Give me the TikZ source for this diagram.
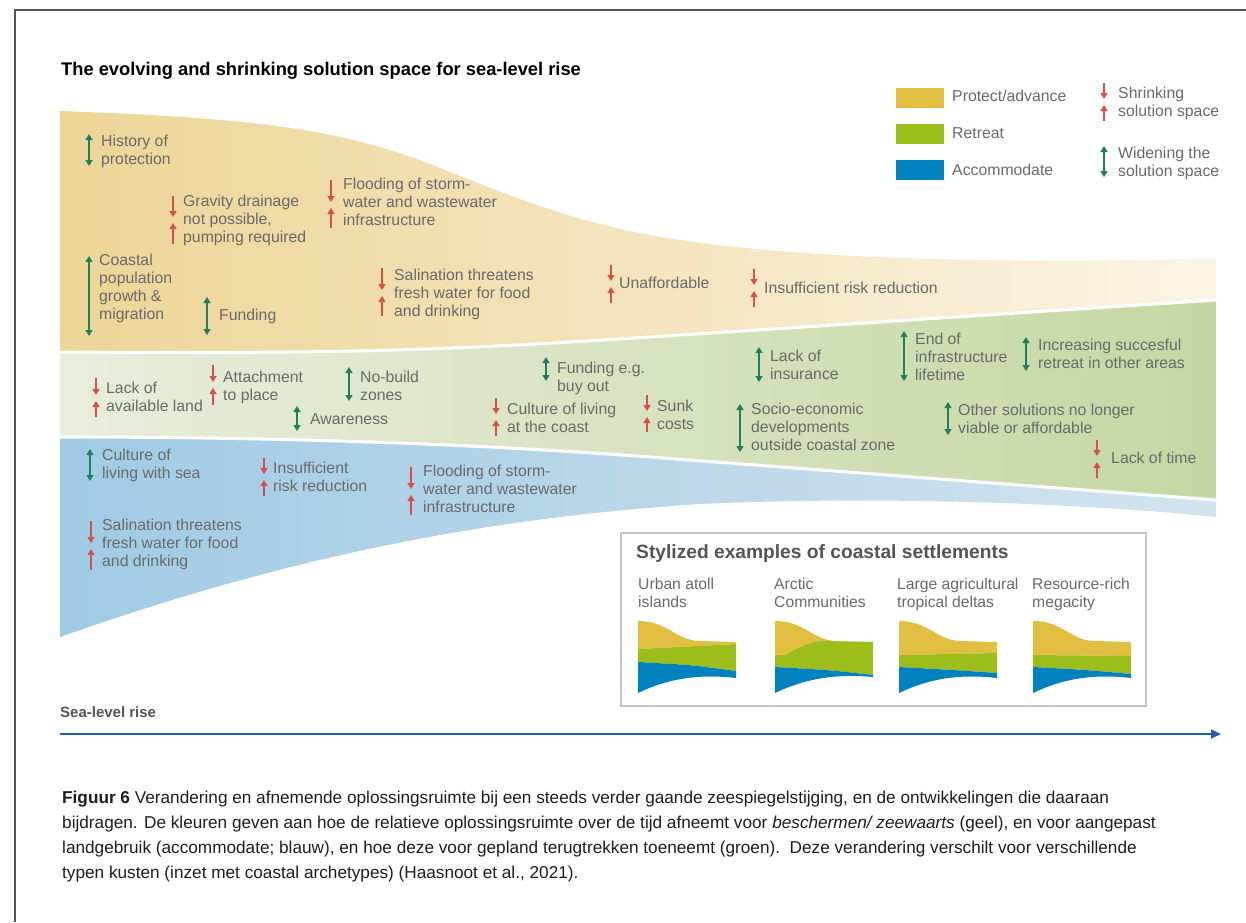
\documentclass[tikz,border=0pt]{standalone}
\usepackage{fontspec}
\setmainfont{Liberation Sans}
\usetikzlibrary{arrows.meta}
\definecolor{txtgray}{HTML}{6A6A6A}
\definecolor{redarrc}{HTML}{D9504A}
\definecolor{greenarrc}{HTML}{1F8060}
\definecolor{yelL}{HTML}{EDD596}
\definecolor{yelM}{HTML}{F3E2B4}
\definecolor{yelR}{HTML}{FBF4E5}
\definecolor{grnL}{HTML}{E9EDDD}
\definecolor{grnM}{HTML}{D9E4C5}
\definecolor{grnR}{HTML}{C6D7A3}
\definecolor{bluL}{HTML}{A0CBE5}
\definecolor{bluM}{HTML}{BBDAED}
\definecolor{bluR}{HTML}{D3E3EE}
\definecolor{cYel}{HTML}{E2BE41}
\definecolor{cGrn}{HTML}{9DBE1A}
\definecolor{cBlu}{HTML}{0082BE}
\definecolor{axisblue}{HTML}{1F5FAA}
\definecolor{framegray}{HTML}{555555}
\definecolor{boxgray}{HTML}{C4C4C4}
\definecolor{captxt}{HTML}{1E1E1E}
\tikzset{
  lbl/.style={anchor=north west, inner sep=0pt, align=left, text=txtgray, font=\fontsize{15.8}{18}\selectfont},
  redarr/.style={draw=redarrc, line width=1.8pt, -{Triangle[length=6pt,width=7pt]}},
  grnarr/.style={draw=greenarrc, line width=1.8pt, {Triangle[length=6pt,width=7pt]}-{Triangle[length=6pt,width=7pt]}},
  legsq/.style={minimum width=48pt, minimum height=20pt, inner sep=0pt, draw=none},
  sep/.style={draw=white, line width=3pt},
}
\newcommand\lab[4]{\node[lbl] (#1) at (#2,#3-7.6) {\strut #4};}
\newcommand\shrinkpair[4]{%
  \draw[redarr] (#1,#2) -- (#1,#3-3);
  \draw[redarr] (#1,#4) -- (#1,#3+3);}
\newcommand\widen[3]{\draw[grnarr] (#1,#2) -- (#1,#3);}
% mini chart: x0, yellow/green left, right, green/blue left, right
\newcommand\minichart[5]{%
  \begin{scope}[shift={(#1,621)}]
    \fill[cYel] (0,0) .. controls (30,0) and (38,20) .. (62,20) -- (98,21) -- (98,#3) -- (0,#2) -- cycle;
    \fill[cGrn] (0,#2) -- (98,#3) -- (98,#5) .. controls (55,#4+3) .. (0,#4) -- cycle;
    \fill[cBlu] (0,#4) .. controls (55,#4+3) .. (98,#5) -- (98,57) .. controls (55,52) and (25,60) .. (0,72) -- cycle;
  \end{scope}}
\begin{document}
\begin{tikzpicture}[x=1pt,y=-1pt]
\useasboundingbox (0,0) rectangle (1246,922);
\fill[white] (0,0) rectangle (1246,922);
% frame
\draw[framegray, line width=1.4pt] (15,922) -- (15,10) -- (1246,10);

% title
\node[anchor=west, inner sep=0pt, font=\fontsize{18.3}{21}\selectfont\bfseries, text=black] (title) at (61,71) {The evolving and shrinking solution space for sea-level rise};

% bands
\shade[left color=yelL, middle color=yelM, right color=yelR]
  (60,111) .. controls (250,118) and (330,128) .. (420,160)
  .. controls (520,200) and (580,225) .. (680,240)
  .. controls (800,258) and (1000,265) .. (1216,258)
  -- (1216,300) -- (650,337) .. controls (450,350) and (350,354) .. (60,352) -- cycle;
\shade[left color=grnL, middle color=grnM, right color=grnR]
  (60,352) .. controls (350,354) and (450,350) .. (650,337) -- (1216,300)
  -- (1216,500) -- (650,457) .. controls (450,442) and (250,437) .. (60,437) -- cycle;
\shade[left color=bluL, middle color=bluM, right color=bluR]
  (60,437) .. controls (250,437) and (450,442) .. (650,457) -- (1216,500)
  -- (1216,517) .. controls (1100,505) and (900,495) .. (700,504)
  .. controls (450,520) and (250,570) .. (60,637) -- cycle;
\draw[sep] (60,352) .. controls (350,354) and (450,350) .. (650,337) -- (1216,300);
\draw[sep] (60,437) .. controls (250,437) and (450,442) .. (650,457) -- (1216,500);

% yellow band labels
\widen{89}{134}{166}
\lab{a1}{101}{141}{History of\\protection}
\shrinkpair{173}{196}{220}{244}
\lab{a2}{183}{201}{Gravity drainage\\not possible,\\pumping required}
\shrinkpair{331}{180}{205}{228}
\lab{a3}{343}{184}{Flooding of storm-\\water and wastewater\\infrastructure}
\widen{89}{256}{336}
\lab{a4}{99}{260}{Coastal\\population\\growth \&\\migration}
\widen{207}{297}{335}
\lab{a5}{219}{315}{Funding}
\shrinkpair{382}{268}{293}{316}
\lab{a6}{394}{275}{Salination threatens\\fresh water for food\\and drinking}
\shrinkpair{611}{265}{284}{303}
\lab{a7}{619}{283}{Unaffordable}
\shrinkpair{754}{269}{288}{307}
\lab{a8}{764}{288}{Insufficient risk reduction}

% green band labels
\shrinkpair{96}{378}{398}{417}
\lab{b1}{106}{388}{Lack of\\available land}
\shrinkpair{213}{365}{385}{405}
\lab{b2}{223}{377}{Attachment\\to place}
\widen{349}{367}{401}
\lab{b3}{360}{377}{No-build\\zones}
\widen{297}{406}{431}
\lab{b4}{310}{419}{Awareness}
\widen{546}{357}{381}
\lab{b5}{557}{368}{Funding e.g.\\buy out}
\shrinkpair{496}{398}{417}{436}
\lab{b6}{507}{409}{Culture of living\\at the coast}
\shrinkpair{647}{395}{414}{432}
\lab{b7}{657}{406}{Sunk\\costs}
\widen{759}{347}{382}
\lab{b8}{770}{356}{Lack of\\insurance}
\widen{904}{331}{381}
\lab{b9}{915}{339}{End of\\infrastructure\\lifetime}
\widen{1026}{337}{371}
\lab{b10}{1038}{345}{Increasing succesful\\retreat in other areas}
\widen{740}{404}{452}
\lab{b11}{751}{409}{Socio-economic\\developments\\outside coastal zone}
\widen{948}{402}{435}
\lab{b12}{958}{410}{Other solutions no longer\\viable or affordable}
\shrinkpair{1097}{440}{459}{478}
\lab{b13}{1111}{458}{Lack of time}

% blue band labels
\widen{90}{449}{481}
\lab{c1}{102}{455}{Culture of\\living with sea}
\shrinkpair{264}{458}{477}{496}
\lab{c2}{273}{468}{Insufficient\\risk reduction}
\shrinkpair{411}{467}{492}{515}
\lab{c3}{423}{471}{Flooding of storm-\\water and wastewater\\infrastructure}
\shrinkpair{91}{521}{546}{570}
\lab{c4}{102}{525}{Salination threatens\\fresh water for food\\and drinking}

% legend
\node[legsq, fill=cYel] (sqP) at (920,98) {};
\node[legsq, fill=cGrn] (sqR) at (920,134) {};
\node[legsq, fill=cBlu] (sqA) at (920,170) {};
\lab{l1}{952}{96}{Protect/advance}
\lab{l2}{952}{133}{Retreat}
\lab{l3}{952}{170}{Accommodate}
\shrinkpair{1104}{83}{102}{121}
\lab{l4}{1118}{93}{Shrinking\\solution space}
\widen{1104}{146}{177}
\lab{l5}{1118}{153}{Widening the\\solution space}

% inset
\draw[boxgray, line width=1.3pt] (621,533) rectangle (1146,706);
\node[anchor=west, inner sep=0pt, font=\fontsize{19.2}{22}\selectfont\bfseries, text=framegray] (insettitle) at (636,554) {Stylized examples of coastal settlements};
\node[lbl, font=\fontsize{15.7}{18}\selectfont] (i1) at (638,577) {\strut Urban atoll\\islands};
\node[lbl, font=\fontsize{15.7}{18}\selectfont] (i2) at (774,577) {\strut Arctic\\Communities};
\node[lbl, font=\fontsize{15.7}{18}\selectfont] (i3) at (897,577) {\strut Large agricultural\\tropical deltas};
\node[lbl, font=\fontsize{15.7}{18}\selectfont] (i4) at (1032,577) {\strut Resource-rich\\megacity};
\minichart{638}{28}{23}{41}{50}
\begin{scope}[shift={(775,621)}]
  \fill[cYel] (0,0) .. controls (30,0) and (38,20) .. (62,20) -- (98,21) -- (50,20) .. controls (35,20) and (25,26) .. (10,34) -- (0,34) -- cycle;
  \fill[cGrn] (0,34) -- (10,34) .. controls (25,26) and (35,20) .. (50,20) -- (98,21) -- (98,54) .. controls (55,49) .. (0,46) -- cycle;
  \fill[cBlu] (0,46) .. controls (55,49) .. (98,54) -- (98,56) .. controls (55,52) and (25,60) .. (0,72) -- cycle;
\end{scope}
\minichart{899}{34}{32}{46}{52}
\minichart{1033}{34}{35}{46}{53}

% axis
\node[anchor=west, inner sep=0pt, font=\fontsize{15}{17}\selectfont\bfseries, text=framegray] (slr) at (60,712) {Sea-level rise};
\coordinate (ax0) at (60,734);
\coordinate (ax1) at (1221,734);
\draw[axisblue, line width=1.5pt, -{Triangle[length=10pt,width=9pt]}] (ax0) -- (ax1);

% caption
\node[anchor=north west, inner sep=0pt, align=left, text=captxt, font=\fontsize{17.2}{25}\selectfont] (cap) at (62,786)
{\strut\textbf{Figuur 6} Verandering en afnemende oplossingsruimte bij een steeds verder gaande zeespiegelstijging, en de ontwikkelingen die daaraan\\
bijdragen. De kleuren geven aan hoe de relatieve oplossingsruimte over de tijd afneemt voor \textit{beschermen/ zeewaarts} (geel), en voor aangepast\\
landgebruik (accommodate; blauw), en hoe deze voor gepland terugtrekken toeneemt (groen).\ \ Deze verandering verschilt voor verschillende\\
typen kusten (inzet met coastal archetypes) (Haasnoot et al., 2021).};
\end{tikzpicture}
\end{document}
